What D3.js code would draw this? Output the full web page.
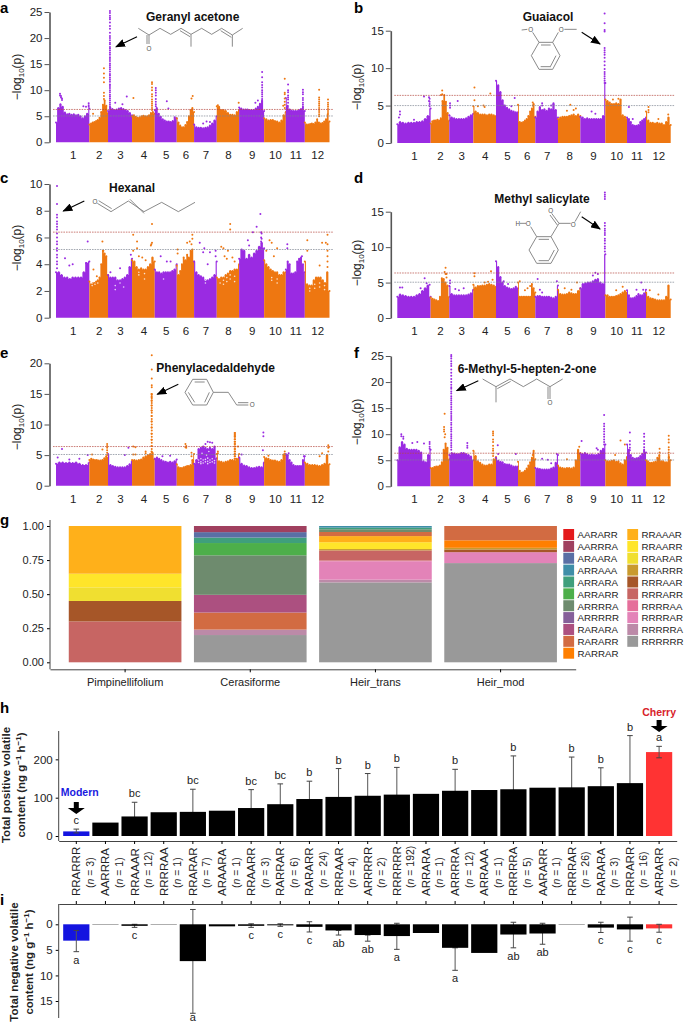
<!DOCTYPE html>
<html>
<head>
<meta charset="utf-8">
<script src="https://cdnjs.cloudflare.com/ajax/libs/d3/7.8.5/d3.min.js"></script>
<style>
body { margin: 0; background: #fff; }
text { font-family: "Liberation Sans", Arial, sans-serif; fill: #222; }
</style>
</head>
<body>
<script>
// chromosomes
var chromNames = ["1", "2", "3", "4", "5", "6", "7", "8", "9", "10", "11", "12"];
var chromSizes = [100, 56, 72, 68, 66, 52, 68, 67, 75, 65, 57, 74];

// upper edge of the dense cloud, one list per chromosome
var envelopeA = [
    [3.8, 6.6, 7.3, 6.8, 5.7, 5.4, 5.5, 5.3, 5.4, 5.2, 5.3, 5.0, 4.6, 5.0, 5.5, 6.5],
    [3.4, 3.6, 3.8, 3.9, 4.1, 4.3, 4.7, 5.8, 7.2, 8.0, 7, 5.6],
    [6, 6.7, 6.4, 6.2, 6.3, 6.5, 6.6, 6.4, 6.2, 6, 5.6, 5.2],
    [5.0, 5.2, 4.9, 4.7, 4.8, 5, 5.1, 5, 5, 5.2, 5.6, 5.8, 5.5],
    [6.2, 6.6, 5.5, 4.9, 4.4, 4.2, 4, 4, 3.9, 4.1, 4.8, 4.6],
    [4.6, 3.8, 3.2, 2.9, 2.9, 3.3, 3.9, 5, 6.2, 6.6, 5.8],
    [3.4, 2.9, 2.8, 2.8, 2.7, 2.8, 2.9, 3.2, 3.6, 4.2, 5],
    [6.9, 6.8, 6.2, 6.2, 6, 5.6, 5.3, 5.3, 5.2, 5.8, 6.2],
    [6.7, 6.5, 6.3, 6.3, 6.3, 6.2, 6.2, 6.2, 6.5, 6.8, 7.4, 8, 6],
    [4.6, 4.4, 4.2, 4.3, 4.3, 4.1, 4, 3.8, 4.2, 5.2, 5.8],
    [8.5, 7, 6.3, 6.1, 6, 6, 6, 6.2, 6.4, 6.8, 6],
    [3.8, 3.4, 3.4, 3.5, 3.6, 3.5, 3.8, 4.4, 3.8, 3.6, 3.7, 4, 4.4, 5.4, 4]
];
var envelopeB = [
    [2.5, 2.8, 2.7, 2.6, 2.7, 2.7, 2.7, 2.8, 2.8, 2.9, 3.2, 3.6, 4.6],
    [2.6, 2.9, 3, 3, 3.1, 3, 3.3, 5.6, 6.4, 5.5, 4, 3],
    [3.7, 3.4, 3.3, 3.2, 3.2, 3.2, 3.2, 3.3, 3.5, 3.7, 3.9],
    [4.9, 4.2, 4, 3.8, 3.8, 3.8, 3.7, 3.8, 3.8, 3.7, 3.6],
    [8.3, 7.7, 6.8, 5.7, 5, 4.7, 4.5, 4.3, 4.2, 4.1, 4.1],
    [5.1, 2.8, 2.7, 2.8, 3, 3.2, 3.6, 4.2, 4.6, 5.2, 3.5],
    [3.4, 4.2, 4.8, 4.4, 4.5, 4.3, 4.6, 4.5, 5.2, 4.4, 3.4],
    [3.2, 3.4, 3.5, 3.5, 3.5, 3.6, 3.7, 3.8, 3.6, 3.8, 3.6],
    [3.5, 3.4, 3.2, 3.3, 3.2, 3.2, 3.2, 3.2, 3.2, 3.2, 3.6, 8],
    [5.8, 5.6, 5.4, 5.2, 5.2, 5.3, 5.2, 5.8, 3.7, 3.5, 3.2],
    [3.4, 3.2, 2.8, 2.4, 2.3, 2.3, 2.4, 2.8, 3, 3.2, 3.4],
    [4.2, 3, 2.7, 2.7, 2.6, 2.7, 2.6, 2.6, 2.4, 2.8, 3.4, 2.4]
];
var envelopeC = [
    [3.4, 3.4, 3.2, 3, 3, 2.9, 3, 3, 3, 3, 3.4, 4.1, 4.2],
    [2.7, 2.5, 2.6, 2.6, 2.7, 2.8, 3, 4, 5, 4.8, 4.6, 3.2],
    [3.2, 3, 3, 3, 2.8, 2.8, 2.9, 3, 3.2, 3.8, 4.4],
    [4.3, 4.2, 3.8, 3.6, 3.7, 3.6, 3.6, 3.8, 4, 4.5, 4.2],
    [3.6, 3.4, 3.4, 3.3, 3.4, 3.4, 3.4, 3.4, 3.5, 3.6, 4],
    [3.9, 3.2, 3.5, 4, 4.5, 4.3, 4.7, 4.5, 5, 5.1, 4.2],
    [4.2, 3.4, 3.2, 3.1, 3, 2.8, 2.8, 2.9, 3, 3.2, 4.2],
    [3, 2.9, 3, 3, 3.2, 3.3, 3.5, 3.5, 3.6, 3.6, 4],
    [4.4, 5.1, 5, 4.4, 4.7, 4.5, 4.8, 5, 5.3, 5.6, 5.2],
    [4.3, 4, 3.8, 3.6, 3.5, 3.4, 3.4, 3.2, 3.2, 3.4, 3.4],
    [3.6, 4.2, 4, 3.3, 3.3, 3.4, 4.2, 4.4, 4.5, 4, 3.4],
    [4.2, 2.5, 2.4, 2.4, 2.8, 3, 3, 3, 2.8, 2.6, 3.4, 2]
];
var envelopeD = [
    [3, 3.3, 3.2, 3.1, 3, 3, 3, 3.2, 3.4, 3.8, 4.2, 4.6, 3],
    [2.9, 2.7, 2.6, 2.5, 2.4, 3, 5.6, 5.5, 5, 4.6, 3],
    [4.5, 3.4, 3.2, 3.2, 3.2, 3.2, 3.2, 3.2, 3.3, 3.5, 4],
    [4.7, 4.3, 4.5, 4.5, 4.6, 4.6, 4.7, 4.8, 4.7, 4.6, 4.4],
    [8, 7.2, 5.8, 5, 4.5, 4.3, 4.2, 4.1, 4.2, 4.4, 4.2],
    [5, 3, 3, 3, 3, 3, 3, 3, 4.8, 4.2, 3.6],
    [3, 3.1, 3.1, 3, 3, 3, 3, 2.9, 2.8, 3, 4.6],
    [4, 3.4, 3.3, 3.3, 3.4, 3.6, 3.5, 3.4, 3.4, 3.8, 4.2],
    [4.2, 4.8, 4.9, 5, 5, 5.2, 5.4, 5.5, 5, 4.8, 9],
    [3.2, 3.2, 3, 3, 3, 3.1, 3.2, 3.4, 3.6, 3.8, 3.6],
    [3.9, 3.2, 2.8, 2.8, 2.9, 3.1, 3.4, 3.2, 3.2, 3.5, 4],
    [3.6, 3, 2.8, 2.7, 2.6, 2.5, 2.5, 2.5, 2.5, 3, 4.6, 2.6]
];
var envelopeE = [
    [3.6, 3.8, 3.8, 3.7, 3.8, 3.7, 3.8, 3.6, 3.4, 3.4, 3.8],
    [4.2, 4.4, 4.3, 4.2, 4.2, 4.1, 4.1, 4.2, 4.5, 4.8, 4.6],
    [5.2, 3.4, 3.2, 3.1, 3, 3, 3, 3, 3.2, 3.5, 4],
    [4.2, 4.2, 4.1, 4.2, 4.3, 4.6, 4.8, 5, 5.2, 5.4, 4.4],
    [4.4, 4.6, 4.4, 4.2, 4, 3.9, 3.8, 3.9, 3.8, 4, 4.3],
    [3.5, 3, 2.9, 2.9, 3, 3.1, 3.2, 3.2, 3.4, 4.2, 5.2],
    [3.6, 4.2, 6, 6.2, 6.4, 6.2, 6, 6.2, 6, 6.4, 4.5],
    [5.2, 4, 3.9, 3.8, 3.9, 4, 4.2, 4.2, 4.1, 4.4, 5.2],
    [4.6, 3.6, 3.3, 3.2, 3, 2.9, 2.9, 3, 3.1, 3, 3.8],
    [4.7, 4.5, 4.4, 4.2, 4.1, 4.1, 4, 3.9, 4.2, 5, 5],
    [5.2, 5, 4.2, 3.8, 3.4, 3.2, 3.2, 3.2, 3.2, 4.2, 4.8],
    [3.8, 3.6, 3.4, 3.4, 3.4, 3.3, 3.2, 3.4, 3.6, 5, 3.5]
];
var envelopeF = [
    [5, 7.5, 8.5, 8, 7.2, 7, 7, 7, 7, 6.8, 6.5, 4.8, 4.6, 6, 7],
    [3.5, 3.5, 3.7, 3.8, 3.8, 4, 4.6, 7, 8.2, 7.4, 5.2],
    [6, 6.4, 6.3, 6.2, 6.2, 6.4, 6.4, 6.2, 6, 5.7, 5],
    [6.8, 5.8, 4.8, 4.5, 4.2, 4, 4, 4.2, 4.2, 5.2, 5.6],
    [5.5, 4.9, 4.7, 4.6, 4.3, 4.2, 4.2, 4, 3.8, 3.8, 3.8],
    [4.7, 3, 2.6, 2.7, 3, 3.4, 4, 4.6, 5.5, 6.8, 5.2],
    [3.5, 3.4, 3.3, 3.2, 3.2, 3.2, 3.2, 3.4, 3.6, 4.5, 6],
    [4, 3.6, 3.5, 3.4, 3.5, 3.5, 3.4, 3.6, 5, 7, 6.4],
    [6.3, 6.2, 6.4, 6.2, 6, 6.1, 6, 6, 6.2, 6.8, 7.2, 8],
    [5, 4.8, 4.8, 4.9, 5, 4.7, 4.8, 4.4, 4.2, 5, 5.6],
    [8, 7, 6, 5.5, 5.3, 5.4, 5.5, 5.8, 6.2, 6.8, 6.5],
    [5, 4.8, 4.5, 4.5, 4.6, 4.7, 5.5, 6, 4.8, 4.8, 4.6, 4.6, 5.6, 5]
];

// stray snps above the cloud: chromosome, fraction along it, -log10(p) values
var peaksA = [
    [1, .12, [9.3, 9.0]], [1, .15, [8.9, 8.6]], [1, .18, [8.4, 8.1]], [1, .82, [6.9]], [1, .9, [6.8]], [1, .98, [7.5, 7.1, 6.8]],
    [2, .78, [14.2, 13.2, 12.4, 11.5, 9.5, 8.9, 8.3]], [2, .2, [5.5]],
    [3, .08, [25.2, 24.8, 24.3, 23.9, 23.6, 23, 22.3, 21.8, 21, 20.4, 20, 19.6, 19.1, 18.8, 18.3, 18, 17.6, 17.2, 16.8, 16.3, 16, 15.6, 15.1, 14.8, 14.4, 14, 13.6, 13.1, 12.8, 12.4, 12, 11.6, 11.1, 10.8, 10.4, 10, 9.6, 9.1, 8.8, 8.4, 8, 7.6, 7.2, 6.8]],
    [3, .3, [7.6]], [3, .78, [8.8]], [3, .6, [7.3]],
    [4, .06, [8.5]], [4, .88, [11.5, 11.2, 10.5, 10, 9.2, 8.8, 8.2, 7.8, 7.4, 7, 6.6, 6.2]],
    [5, .05, [10.4, 10, 9.5, 9, 8.3, 7.8, 7.3, 6.9]], [5, .55, [7.9]], [5, .62, [6.5]],
    [6, .92, [8.9]], [6, .85, [8.4]],
    [7, .55, [4.0]], [7, .7, [3.9]], [7, .4, [3.6]],
    [8, .05, [7.1]], [8, .98, [7.6]],
    [9, .65, [7.6]], [9, .75, [8.0]], [9, .92, [13.5, 12.5, 11.5, 11, 10.5, 10, 9.6, 9.2, 8.8, 8.3]],
    [10, .95, [12.2, 9.5, 9.2, 8.4, 7.8, 7.2, 6.6]], [10, .88, [7]],
    [11, .12, [11.1, 10, 9.6, 9, 8.6, 8.2, 7.6]], [11, .9, [10.1, 9.6, 9.2, 8.5, 8.1, 7.6, 7.2]],
    [12, .58, [10.1, 8.6, 8.2, 7.8, 7.4, 7, 6.6, 6.2, 5.8, 5.4, 5]], [12, .94, [8.2, 7.6, 7.2, 6.8, 6.4, 6, 5.6]]
];
var peaksB = [
    [1, .08, [4.2, 3.8]], [1, .05, [3.4]], [1, .8, [6.2]], [1, .95, [6.1, 5.6]], [1, .5, [3.1]], [1, .97, [5.9, 5.5, 5.2, 4.9]],
    [2, .62, [7, 6.5]], [2, .55, [6.4]],
    [3, .03, [5.3, 5, 4.7]], [3, .35, [5.6]],
    [4, .05, [7.4, 5.7]], [4, .75, [6.6]], [4, .45, [5]], [4, .5, [4.8]], [4, .2, [4.9]],
    [5, .85, [6]], [5, .35, [5]], [5, .7, [4.9]],
    [6, .85, [5.4, 5]],
    [7, .3, [5.3, 5]], [7, .8, [5.3]], [7, .7, [5]],
    [8, .55, [5.1]], [8, .7, [4.4]], [8, .4, [4.3]], [8, .8, [4.6]],
    [9, .45, [4.2]], [9, .6, [3.9]], [9, .97, [17.3, 16, 15.1, 14.9, 12.7, 12.4, 12.1, 11.8, 11.4, 10.9, 10.4, 9.9, 9.5, 9.2, 8.9, 8.6, 8.3, 8]],
    [10, .35, [5.8]], [10, .6, [5.9]],
    [11, .1, [4.8]], [11, .3, [3.2]],
    [12, .1, [4.8, 4.4, 4.1]], [12, .5, [3.2]], [12, .9, [3.8]]
];
var peaksC = [
    [1, .03, [9.85, 8.5, 7.7, 7.5, 7.2, 7, 6.8, 6.6, 6.3, 6, 5.7, 5.5, 5.2, 5, 4.7, 4.5, 4.2, 4, 3.7]], [1, .95, [5.7]], [1, .27, [4.45]], [1, .5, [4]], [1, .4, [3.9]], [1, .9, [4.1]],
    [2, .7, [5.7]], [2, .75, [5]], [2, .22, [3.6]], [2, .4, [3.1]],
    [3, .5, [3.7]], [3, .95, [4.7]], [3, .1, [3.4]],
    [4, .05, [6.2, 5]], [4, .22, [5.7, 5.2]], [4, .88, [7, 5.6]], [4, .85, [5.5]], [4, .83, [5.4]], [4, .45, [4.5]], [4, .6, [4.3]], [4, .3, [4.6]],
    [5, .27, [4.6]], [5, .55, [4.2]], [5, .72, [4.2]],
    [6, .05, [5.1, 4.8]], [6, .6, [5.6]], [6, .75, [5.7]], [6, .9, [6.2, 5.9]], [6, .85, [5.5]],
    [7, .25, [5.6]], [7, .45, [5.2]], [7, .7, [4.9]], [7, .4, [4.9]], [7, .95, [5, 4.6]], [7, .6, [4]],
    [8, .3, [5.2]], [8, .6, [7, 6.6]], [8, .2, [5.3]], [8, .5, [5]], [8, .35, [4.6]], [8, .7, [4.5]], [8, .8, [4.2]], [8, .45, [4.4]],
    [9, .35, [5.8]], [9, .55, [6.4]], [9, .7, [6.8]], [9, .85, [7.75]], [9, .88, [6.4, 6, 5.7]], [9, .9, [6.3, 5.9]], [9, .4, [5.4]],
    [10, .25, [5.8]], [10, .35, [5.6]], [10, .6, [5.2]], [10, .1, [5]], [10, .45, [4.6]],
    [11, .08, [5.5, 5.2]], [11, .85, [4.6]],
    [12, .1, [5.8, 5]], [12, .7, [5.6]], [12, .85, [5.6]], [12, .92, [6.2, 5.5, 5, 4.6, 4.2, 3.8]], [12, .6, [3.9]]
];
var peaksD = [
    [1, .08, [4.3]], [1, .15, [4.3]], [1, .82, [5.6]], [1, .88, [4.9]], [1, .97, [4.7]], [1, .7, [4.2]],
    [2, .8, [7.1, 6.2]], [2, .75, [6.5]], [2, .85, [5.7, 6.2]],
    [3, .03, [5.3, 4.9]], [3, .25, [4.1]], [3, .6, [4.2]], [3, .4, [3.9]],
    [4, .05, [6.3, 5.9]], [4, .78, [6.6]], [4, .85, [5.4]], [4, .5, [5]], [4, .65, [5.1]],
    [5, .35, [5.2]], [5, .55, [4.8]],
    [6, .1, [5.2]], [6, .55, [4.2]], [6, .4, [3.9]], [6, .7, [4.5]],
    [7, .2, [4]], [7, .1, [5.5]], [7, .95, [5.2]], [7, .3, [3.6]],
    [8, .85, [5]], [8, .3, [4.2]], [8, .6, [4]],
    [9, .6, [6.4]], [9, .7, [6.2]], [9, .5, [6]],
    [9, .98, [17.7, 17.4, 17.1, 16.8, 13.4, 13, 12.6, 12.3, 12, 11.7, 11.2, 10.9, 10.5, 10.1, 9.8, 9.4]],
    [10, .8, [4.4]], [10, .5, [3.9]],
    [11, .75, [5]], [11, .5, [4]], [11, .85, [4]],
    [12, .15, [3.9]], [12, .5, [3.3]]
];
var peaksE = [
    [1, .18, [6]], [1, .05, [4.6]], [1, .4, [4.3]], [1, .7, [4.4]], [1, .95, [5]],
    [2, .7, [5.9]], [2, .95, [6.8, 6.5, 6.2, 5.8, 5.4, 5]], [2, .15, [5.1]],
    [3, .85, [6.2]], [3, .7, [5]],
    [4, .05, [6.4, 5.1]], [4, .15, [6.3, 5.1]], [4, .6, [5.6, 5.3]],
    [4, .86, [15, 14.5, 13.9, 13.1, 12.3, 11.4, 10.5, 9.5, 8.5, 7.5, 6.5, 5.6]],
    [4, .87, [21.3, 19, 17.5, 16.4, 16.1, 15, 14.8, 14.5, 14.2, 13.9, 13.5, 13.1, 12.7, 12.3, 11.9, 11.4, 10.9, 10.5, 10, 9.5, 9, 8.5, 8, 7.5, 7, 6.5, 6, 5.5]],
    [5, .7, [4.9]], [5, .35, [4.8]],
    [6, .5, [6.8, 6.3]], [6, .55, [6.5, 6.2]], [6, .85, [5.4, 4.8]],
    [7, .6, [7.2]], [7, .7, [7.1]], [7, .8, [7]], [7, .5, [6.8]],
    [8, .8, [8.6, 8.3, 8, 7.6, 7.2, 6.8, 6.4, 6, 5.6, 5.2, 4.8, 4.4]],
    [8, .82, [8.6, 8.3, 8, 7.6, 7.2, 6.8, 6.4, 6, 5.6, 5.2, 4.8, 4.4]], [8, .05, [5.6, 5.3]], [8, .95, [6.4]],
    [9, .97, [8.7, 8.1]], [9, .95, [5.8]], [9, .1, [5.1]],
    [10, .95, [5.6, 5.2]], [10, .2, [4.9]], [10, .9, [5.1]],
    [11, .15, [5.3]], [11, .95, [4.8]],
    [12, .95, [6.6, 6.2, 5.6]], [12, .7, [5.3]], [12, .6, [4.8]], [12, .97, [6.3]]
];
var peaksF = [
    [1, .12, [10, 9.6]], [1, .18, [9.5, 9.1]], [1, .6, [8.5]], [1, .45, [8.3]], [1, .8, [8.2]], [1, .97, [8.5, 8.1, 7.6, 7.2]],
    [2, .75, [13.9, 9.4]], [2, .72, [11.4, 10.9, 10.5]], [2, .78, [10]],
    [3, .08, [25.2, 24.9, 24.5, 24, 23.5, 23.1, 22.4, 21.8, 21.2, 20.6, 20, 19.5, 19, 18.7, 18.2, 17.8, 17.3, 16.9, 16.5, 16.1, 15.7, 15.2, 14.8, 14.3, 13.9, 13.5, 13.1, 12.7, 12.2, 11.8, 11.3, 10.9, 10.5, 10, 9.6, 9.2, 8.8, 8.3, 7.9, 7.5, 7]],
    [3, .75, [8.3, 7.8, 7.4]],
    [4, .87, [10.5, 10.2, 9.8, 9, 8.5, 7.8, 7.2, 6.8, 6.3, 5.8]],
    [5, .08, [7.9]], [5, .1, [6.2]], [5, .9, [6.2]],
    [6, .85, [6]],
    [7, .3, [5.3]], [7, .55, [5.1]], [7, .95, [6.2]], [7, .7, [4.4]],
    [8, .4, [5.2]], [8, .95, [7.6]],
    [9, .05, [8.7]], [9, .65, [7.3]], [9, .7, [7]], [9, .95, [13.7, 12, 11.5, 11, 10.5, 10, 9.5, 9, 8.5, 8]],
    [10, .7, [8.8]], [10, .9, [8]], [10, .45, [6]],
    [11, .15, [10.3, 8.7, 8, 7.4, 6.9]], [11, .9, [10.1, 9.5, 8.7, 8.1, 7.5, 7]],
    [12, .92, [9.7, 9, 8.4, 7.5, 7, 6.5, 6, 5.6]], [12, .55, [7.2, 6.5]]
];
// gaps in the thinner parts of the cloud
var gapsC = [
    [2, .15, [2.6, 2.4]], [2, .3, [2.8, 2.5]], [2, .45, [2.6]], [3, .3, [2.4, 2.1]], [3, .5, [2.6]], [3, .65, [2.3]],
    [4, .3, [3.2, 3.4]], [4, .55, [3.3, 2.9]], [5, .4, [2.9]], [7, .5, [2.6, 2.8]], [7, .7, [3]],
    [8, .15, [2.6]], [8, .3, [2.8, 2.5]], [8, .45, [3, 2.7]], [8, .6, [3.2, 2.9]], [8, .8, [3.1, 2.7]],
    [10, .35, [3, 2.8]], [10, .6, [2.9, 2.6]], [12, .2, [2.2, 2.0]], [12, .4, [2.5, 2.2]], [12, .6, [2.6, 2.3]], [12, .8, [2.4, 2.1]]
];
var gapsE = [
    [7, .2, [4.2, 3.8]], [7, .3, [4.4, 3.9, 3.6]], [7, .4, [4.2, 3.7]], [7, .5, [4.3, 3.9]], [7, .6, [4.5, 4, 3.6]],
    [7, .7, [4.2, 3.8]], [7, .8, [4.4, 3.9]], [7, .9, [4.1, 3.7]], [7, .35, [5.3]], [7, .65, [5.6]], [7, .55, [5]]
];
var gapsNone = [];

// genotype frequencies in panel g, same order as genotypes
var genotypes = ["AARARR", "AARRRA", "ARAARA", "ARRAAA", "ARRARA", "ARRARR", "ARRRRA", "ARRRRR", "RARARA", "RARARR", "RARRAR",
    "RRAAAR", "RRAARR", "RRARAR", "RRARRR", "RRRAAR", "RRRARR", "RRRRAA", "RRRRAR", "RRRRRA", "RRRRRR"];
var genotypeColors = ["#e41a1c", "#a0405f", "#5a6fa5", "#3f8ea8", "#3f9f7c", "#4daf4a", "#6e8b6e", "#86609a", "#ac5080", "#d26b42", "#ff7f00",
    "#ffb01a", "#ffe52a", "#f0df30", "#c99a2e", "#a65628", "#c76563", "#e56f9b", "#e383b8", "#bc8aa8", "#999999"];
var groups = ["Pimpinellifolium", "Cerasiforme", "Heir_trans", "Heir_mod"];
var pimpValues = [0, 0, 0, 0, 0, 0, 0, 0, 0, 0, 0, .35, .10, .10, 0, .15, .30, 0, 0, 0, 0];
var ceraValues = [0, .045, .04, 0, .04, .09, .29, 0, .13, .125, 0, 0, 0, 0, 0, 0, 0, 0, 0, .04, .20];
var transValues = [0, 0, 0, .012, .012, 0, .02, 0, 0, .03, 0, .045, .05, 0, .01, 0, .075, .005, .135, .02, .586];
var modValues = [0, 0, 0, 0, 0, 0, 0, 0, 0, .105, .055, 0, 0, 0, .012, .02, 0, 0, .08, 0, .728];

// panels h and i
var lines = ["RRARRR", "AARRRA", "RRAAAR", "RRRRAA", "RRARAR", "ARAARA", "RRAARR", "RARRAR", "RARARR", "RRRAAR", "ARRRRR",
    "RRRRRR", "ARRARA", "ARRRRA", "ARRAAA", "RRRRRA", "AARARR", "RRRRAR", "RARARA", "RRRARR", "ARRARR"];
var lineN = [3, 1, 12, 1, 7, 1, 3, 6, 24, 4, 2, 192, 1, 12, 1, 5, 1, 26, 3, 16, 2];
var posValues = [12, 35, 51, 62, 63, 66, 73, 83, 96.5, 102, 105, 108, 110, 118, 120, 122, 126, 127, 130, 138, 219];
var posLow = [8, null, 20, null, 10, null, 30, 40, 60, 40, 60, 50, null, 70, null, 50, null, 60, 90, 40, 204];
var posHigh = [18, null, 88, null, 122, null, 121, 136, 143, 176, 163, 179, null, 174, null, 209, null, 206, 178, 262, 234];
var posLetters = ["c", "", "bc", "", "bc", "", "bc", "bc", "b", "b", "b", "b", "", "b", "", "b", "", "b", "b", "b", "a"];
var negValues = [3.2, .1, .3, .1, 7.2, .4, .3, .2, .5, 1.2, 2.1, 2.3, 1.7, 4.6, 5.6, 2, 1.8, .1, .65, 1, .8];
var negLow = [5.35, null, .6, null, 17.4, null, .6, .4, 1.5, 2.1, 3.3, 4.9, null, 9, null, 4.6, 3.9, null, 1.6, 3.3, 1.55];
var negHigh = [1.2, null, 0, null, -2.9, null, -.1, -.1, -.5, 1.2, 2.1, -.2, null, 4.6, null, -.4, -.2, null, -.4, -1.4, 0];
var negLetters = ["a", "", "c", "", "a", "", "c", "c", "c", "ab", "ab", "a", "", "a", "", "ab", "ab", "", "c", "c", "c"];
var barColors = lines.map(function (d, i) { return i === 0 ? "#1414e0" : (i === 20 ? "#ff3333" : "#000"); });

var purple = "#9a2be2", orange = "#ee7711";

var svg = d3.select("body").append("svg")
    .attr("width", 685)
    .attr("height", 1024)
    .style("display", "block")
    .style("opacity", .999);

// panel letters
[["a", 0, 13], ["b", 354, 13], ["c", 0, 183], ["d", 354, 183], ["e", 0, 358], ["f", 354, 358], ["g", 0, 525], ["h", 0, 713], ["i", 0, 905]].forEach(function (p) {
    svg.append("text").attr("x", p[1]).attr("y", p[2])
        .attr("font-size", 15).attr("font-weight", "bold").style("fill", "#000").text(p[0]);
});

function manhattan(o) {
    var total = d3.sum(chromSizes);
    var starts = [0].concat(Array.from(d3.cumsum(chromSizes)));
    var x = d3.scaleLinear().domain([0, total]).range([o.x0, o.x1]);
    var y = d3.scaleLinear().domain([0, o.ymax]).range([o.y0, o.ytop]);
    var g = svg.append("g");

    var area = d3.area().curve(d3.curveStep).x(function (d) { return x(d[0]); }).y0(o.y0).y1(function (d) { return y(d[1]); });

    chromSizes.forEach(function (size, c) {
        var color = c % 2 === 0 ? purple : orange;
        var pts = o.envelope[c].map(function (v, j, arr) {
            return [starts[c] + size * j / (arr.length - 1), v];
        });
        g.append("path").attr("d", area(pts)).attr("fill", color);
        g.selectAll(null).data(pts).enter().append("circle")
            .attr("cx", function (d) { return x(d[0]); })
            .attr("cy", function (d) { return y(d[1]); })
            .attr("r", 1).attr("fill", color);
    });

    o.gaps.forEach(function (p) {
        var c = p[0] - 1;
        g.selectAll(null).data(p[2]).enter().append("circle")
            .attr("cx", x(starts[c] + chromSizes[c] * p[1]))
            .attr("cy", function (d) { return y(d); })
            .attr("r", .8)
            .attr("fill", "#fff").attr("opacity", .8);
    });

    o.peaks.forEach(function (p) {
        var c = p[0] - 1;
        g.selectAll(null).data(p[2]).enter().append("circle")
            .attr("cx", x(starts[c] + chromSizes[c] * p[1]))
            .attr("cy", function (d) { return y(d); })
            .attr("r", 1)
            .attr("fill", c % 2 === 0 ? purple : orange);
    });

    // significance thresholds
    g.append("line").attr("x1", o.x0 - 3).attr("x2", o.x1 + 3.5).attr("y1", y(o.hi)).attr("y2", y(o.hi))
        .attr("stroke", "#b5483f").attr("stroke-width", .7).attr("stroke-dasharray", "1.6,1");
    g.append("line").attr("x1", o.x0 - 3).attr("x2", o.x1 + 3.5).attr("y1", y(o.lo)).attr("y2", y(o.lo))
        .attr("stroke", "#7d8490").attr("stroke-width", .7).attr("stroke-dasharray", "1.6,1");

    var yAxis = g.append("g")
        .attr("transform", "translate(" + (o.x0 - 6.5) + ",0)")
        .call(d3.axisLeft(y).tickValues(o.ticks).tickSize(5).tickSizeOuter(0));
    yAxis.select(".domain").attr("stroke", "#555").attr("stroke-width", 1.6);
    yAxis.selectAll(".tick line").attr("stroke", "#555").attr("stroke-width", 1);
    yAxis.selectAll("text").attr("font-size", 11.5).attr("font-family", "Liberation Sans").attr("x", -7);

    var mids = starts.slice(0, 12).map(function (s, i) { return s + chromSizes[i] / 2; });
    var xAxis = g.append("g")
        .attr("transform", "translate(0," + o.y0 + ")")
        .call(d3.axisBottom(x).tickValues(mids).tickSize(0).tickFormat(function (d, i) { return chromNames[i]; }));
    xAxis.select(".domain").remove();
    xAxis.selectAll("text").attr("font-size", 11.5).attr("font-family", "Liberation Sans").attr("dy", 0).attr("y", 17);

    var t = g.append("text")
        .attr("transform", "translate(" + o.titleX + "," + o.titleY + ") rotate(-90)")
        .attr("text-anchor", "middle").attr("font-size", 12);
    t.append("tspan").text("\u2212log");
    t.append("tspan").attr("font-size", 8).attr("dy", 2.5).text("10");
    t.append("tspan").attr("dy", -2.5).text("(p)");

    svg.append("text").attr("x", o.nameX).attr("y", o.nameY).attr("text-anchor", "middle")
        .attr("font-size", 12).attr("font-weight", "bold").style("fill", "#111").text(o.name);

    svg.append("line").attr("x1", o.arrow[0]).attr("y1", o.arrow[1]).attr("x2", o.arrow[2]).attr("y2", o.arrow[3])
        .attr("stroke", "#000").attr("stroke-width", 1.1).attr("marker-end", "url(#head)");
}

svg.append("defs").append("marker")
    .attr("id", "head").attr("viewBox", "0 0 10 8").attr("refX", 9).attr("refY", 4)
    .attr("markerUnits", "userSpaceOnUse").attr("markerWidth", 10).attr("markerHeight", 8).attr("orient", "auto")
    .append("path").attr("d", "M0,0L10,4L0,8Z").attr("fill", "#000");

manhattan({ envelope: envelopeA, peaks: peaksA, gaps: gapsNone, x0: 56, x1: 329.5, y0: 142.3, ytop: 12, ymax: 25, ticks: [0, 5, 10, 15, 20, 25], hi: 6.3, lo: 5.05, titleX: 21, titleY: 77, name: "Geranyl acetone", nameX: 192.7, nameY: 21, arrow: [137, 36.7, 116, 46.7] });
manhattan({ envelope: envelopeB, peaks: peaksB, gaps: gapsNone, x0: 397.3, x1: 670.7, y0: 143, ytop: 30.7, ymax: 15, ticks: [0, 5, 10, 15], hi: 6.36, lo: 5, titleX: 361, titleY: 87, name: "Guaiacol", nameX: 548, nameY: 21, arrow: [581.7, 32.3, 600, 44] });
manhattan({ envelope: envelopeC, peaks: peaksC, gaps: gapsC, x0: 56, x1: 329.5, y0: 317.7, ytop: 184, ymax: 10, ticks: [0, 2, 4, 6, 8, 10], hi: 6.4, lo: 5.1, titleX: 21, titleY: 248, name: "Hexanal", nameX: 132, nameY: 192, arrow: [84.3, 201, 63.3, 211] });
manhattan({ envelope: envelopeD, peaks: peaksD, gaps: gapsNone, x0: 397.3, x1: 670.7, y0: 318, ytop: 211.7, ymax: 15, ticks: [0, 5, 10, 15], hi: 6.35, lo: 5.05, titleX: 361, titleY: 263, name: "Methyl salicylate", nameX: 542, nameY: 203, arrow: [581.7, 216.7, 600, 229] });
manhattan({ envelope: envelopeE, peaks: peaksE, gaps: gapsE, x0: 56, x1: 329.5, y0: 485.7, ytop: 363.3, ymax: 20, ticks: [0, 5, 10, 15, 20], hi: 6.4, lo: 5.1, titleX: 21, titleY: 427, name: "Phenylacedaldehyde", nameX: 215.7, nameY: 372, arrow: [178.3, 384.3, 157.3, 394.3] });
manhattan({ envelope: envelopeF, peaks: peaksF, gaps: gapsNone, x0: 397.3, x1: 670.7, y0: 486.3, ytop: 356, ymax: 25, ticks: [0, 5, 10, 15, 20, 25], hi: 6.35, lo: 5.05, titleX: 361, titleY: 422, name: "6-Methyl-5-hepten-2-one", nameX: 527, nameY: 373, arrow: [478.3, 380.7, 456.7, 390.7] });

// molecule sketches, traced in 3x crop coordinates
function molecule(ox, oy, chains, atoms) {
    var g = svg.append("g").attr("transform", "translate(" + ox + "," + oy + ") scale(" + (1 / 3) + ")");
    var line = d3.line();
    chains.forEach(function (c) {
        g.append("path").attr("d", line(c)).attr("fill", "none").attr("stroke", "#777").attr("stroke-width", 2.6);
    });
    atoms.forEach(function (a) {
        g.append("text").attr("x", a[1]).attr("y", a[2] + 7).attr("text-anchor", "middle")
            .attr("font-size", 19).style("fill", "#555").text(a[0]);
    });
}
molecule(0, 0, [
    [[415, 85], [447, 105], [480, 85], [512, 103], [543, 85], [573, 103], [605, 85], [635, 103], [665, 85], [697, 105], [728, 85]],
    [[447, 105], [447, 132]], [[441, 105], [441, 132]], [[573, 103], [573, 140]], [[697, 105], [697, 140]],
    [[540, 92], [570, 110]], [[662, 92], [694, 112]]
], [["O", 447, 145]]);
molecule(340, 0, [
    [[597, 127], [638, 127], [660, 167], [638, 208], [597, 208], [574, 167], [597, 127]],
    [[603, 135], [632, 135]], [[648, 167], [632, 198]], [[602, 200], [633, 200]],
    [[597, 127], [578, 97]], [[638, 127], [655, 97]], [[673, 88], [710, 88]], [[562, 88], [545, 90]]
], [["O", 572, 88], ["O", 664, 88]]);
molecule(0, 170, [
    [[292, 100], [333, 125], [385, 93], [432, 125], [485, 97], [535, 125], [585, 97]],
    [[296, 92], [335, 116]], [[390, 88], [432, 130]]
], [["O", 285, 95]]);
molecule(340, 170, [
    [[590, 200], [633, 200], [655, 240], [633, 280], [590, 280], [567, 240], [590, 200]],
    [[596, 208], [627, 208]], [[643, 240], [627, 270]], [[596, 272], [627, 272]],
    [[590, 200], [572, 170]], [[633, 200], [657, 160], [635, 130]], [[652, 165], [630, 135]],
    [[657, 160], [692, 160]], [[705, 155], [722, 125]], [[540, 160], [558, 160]]
], [["O", 565, 160], ["O", 632, 122], ["O", 700, 163], ["H", 533, 160]]);
molecule(0, 340, [
    [[578, 118], [620, 118], [640, 157], [620, 195], [578, 195], [555, 157], [578, 118]],
    [[584, 126], [614, 126]], [[628, 157], [614, 187]], [[584, 187], [565, 157]],
    [[640, 157], [685, 157], [710, 195], [745, 195]], [[714, 188], [745, 188]]
], [["O", 757, 195]]);
molecule(340, 340, [
    [[428, 117], [468, 140], [510, 117], [550, 140], [590, 117], [630, 140], [668, 117]],
    [[472, 146], [512, 124]], [[468, 140], [468, 187]], [[630, 140], [630, 177]], [[624, 140], [624, 177]]
], [["O", 630, 188]]);

// panel g
var rows = groups.map(function (g, i) {
    var vals = [pimpValues, ceraValues, transValues, modValues][i];
    var row = { group: g };
    genotypes.forEach(function (k, j) { row[k] = vals[j]; });
    return row;
});
var stacked = d3.stack().keys(genotypes.slice().reverse())(rows);

var gx = d3.scaleBand().domain(groups).range([50, 575.7]).paddingInner(.1).paddingOuter(.15);
var gy = d3.scaleLinear().domain([0, 1]).range([662.3, 526]);
var gp = svg.append("g");

gp.selectAll("g.layer").data(stacked).enter().append("g")
    .attr("class", "layer")
    .attr("fill", function (d) { return genotypeColors[genotypes.indexOf(d.key)]; })
    .selectAll("rect").data(function (d) { return d; }).enter().append("rect")
    .attr("x", function (d) { return gx(d.data.group); })
    .attr("width", gx.bandwidth())
    .attr("y", function (d) { return gy(d[1]); })
    .attr("height", function (d) { return gy(d[0]) - gy(d[1]); });

var gyAxis = gp.append("g").attr("transform", "translate(50,0)")
    .call(d3.axisLeft(gy).tickValues([0, .25, .5, .75, 1]).tickFormat(d3.format(".2f")).tickSize(3).tickSizeOuter(0));
gyAxis.select(".domain").remove();
gyAxis.selectAll("text").attr("font-size", 11).attr("font-family", "Liberation Sans");
gp.append("line").attr("x1", 50).attr("x2", 50).attr("y1", 520).attr("y2", 669.3).attr("stroke", "#444").attr("stroke-width", 1);
var gxAxis = gp.append("g").attr("transform", "translate(0,669.3)")
    .call(d3.axisBottom(gx).tickSize(3).tickSizeOuter(0));
gxAxis.select(".domain").attr("stroke", "#444");
gxAxis.selectAll("text").attr("font-size", 11).attr("font-family", "Liberation Sans").attr("y", 9);

// legend for g, two columns
var legend = gp.selectAll("g.key").data(genotypes).enter().append("g")
    .attr("class", "key")
    .attr("transform", function (d, i) {
        var col = i < 11 ? 0 : 1;
        var row = i < 11 ? i : i - 11;
        return "translate(" + (col ? 627.3 : 563.3) + "," + (529 + row * 11.87) + ")";
    });
legend.append("rect").attr("width", 10.8).attr("height", 11)
    .attr("fill", function (d, i) { return genotypeColors[i]; });
legend.append("text").attr("x", 14.2).attr("y", 9.3).attr("font-size", 9.7).text(function (d) { return d; });

// panels h and i share the band scale
var bx = d3.scaleBand().domain(d3.range(lines.length)).range([58.7, 676.7]).paddingInner(.1).paddingOuter(.154);
var hy = d3.scaleLinear().domain([0, 274]).range([836, 731]);
var iy = d3.scaleLinear().domain([0, 15]).range([924.3, 1001]);
var hp = svg.append("g");
var ip = svg.append("g");

function errorBars(g, low, high, y, coloured) {
    lines.forEach(function (d, i) {
        if (low[i] === null || (barColors[i] !== "#000") !== coloured) return;
        var cx = bx(i) + bx.bandwidth() / 2;
        g.append("line").attr("x1", cx).attr("x2", cx).attr("y1", y(low[i])).attr("y2", y(high[i]))
            .attr("stroke", "#555").attr("stroke-width", 1);
        [low[i], high[i]].forEach(function (v) {
            g.append("line").attr("x1", cx - 2.8).attr("x2", cx + 2.8).attr("y1", y(v)).attr("y2", y(v))
                .attr("stroke", "#444").attr("stroke-width", 1);
        });
    });
}

// whiskers of the black bars go under the bar, the coloured ones show through
errorBars(hp, posLow, posHigh, hy, false);
errorBars(ip, negLow, negHigh, iy, false);

hp.selectAll("rect.bar").data(posValues).enter().append("rect")
    .attr("class", "bar")
    .attr("x", function (d, i) { return bx(i); })
    .attr("width", bx.bandwidth())
    .attr("y", function (d) { return hy(d); })
    .attr("height", function (d) { return hy(0) - hy(d); })
    .attr("fill", function (d, i) { return barColors[i]; });

ip.selectAll("rect.bar").data(negValues).enter().append("rect")
    .attr("class", "bar")
    .attr("x", function (d, i) { return bx(i); })
    .attr("width", bx.bandwidth())
    .attr("y", iy(0))
    .attr("height", function (d) { return Math.max(iy(d) - iy(0), .6); })
    .attr("fill", function (d, i) { return d < .2 ? "#777" : barColors[i]; });

errorBars(hp, posLow, posHigh, hy, true);
errorBars(ip, negLow, negHigh, iy, true);

// significance letters
hp.selectAll("text.sig").data(posLetters).enter().append("text")
    .attr("class", "sig")
    .attr("x", function (d, i) { return bx(i) + bx.bandwidth() / 2; })
    .attr("y", function (d, i) { return hy(posHigh[i] === null ? posValues[i] : posHigh[i]) - 5; })
    .attr("text-anchor", "middle").attr("font-size", 11).text(function (d) { return d; });
ip.selectAll("text.sig").data(negLetters).enter().append("text")
    .attr("class", "sig")
    .attr("x", function (d, i) { return bx(i) + bx.bandwidth() / 2; })
    .attr("y", function (d, i) {
        return Math.min(iy(negLow[i] === null ? negValues[i] : negLow[i]) + 12, 1021);
    })
    .attr("text-anchor", "middle").attr("font-size", 11).text(function (d) { return d; });

// axes of h
var hAxis = hp.append("g").attr("transform", "translate(58.7,0)")
    .call(d3.axisLeft(hy).tickValues([0, 100, 200]).tickSize(3).tickSizeOuter(0));
hAxis.select(".domain").remove();
hAxis.selectAll("text").attr("font-size", 11.5).attr("font-family", "Liberation Sans");
hp.append("line").attr("x1", 58.7).attr("x2", 58.7).attr("y1", 731).attr("y2", 841).attr("stroke", "#444");
var hxAxis = hp.append("g").attr("transform", "translate(0,841)")
    .call(d3.axisBottom(bx).tickSize(3).tickSizeOuter(0).tickFormat(""));
hxAxis.select(".domain").attr("stroke", "#444");

// rotated genotype and (n = x) labels between h and i
lines.forEach(function (d, i) {
    var cx = bx(i) + bx.bandwidth() / 2;
    hp.append("text").attr("transform", "translate(" + (cx + 4) + ",896) rotate(-90)")
        .attr("font-size", 11.5).text(d);
    var n = hp.append("text").attr("transform", "translate(" + (cx + 17.5) + ",888) rotate(-90)")
        .attr("font-size", 10.5);
    n.append("tspan").text("(");
    n.append("tspan").attr("font-style", "italic").text("n");
    n.append("tspan").text(" = " + lineN[i] + ")");
});

// axes of i
var iAxis = ip.append("g").attr("transform", "translate(58.7,0)")
    .call(d3.axisLeft(iy).tickValues([0, 5, 10, 15]).tickSize(3).tickSizeOuter(0));
iAxis.select(".domain").remove();
iAxis.selectAll("text").attr("font-size", 11.5).attr("font-family", "Liberation Sans");
ip.append("line").attr("x1", 58.7).attr("x2", 58.7).attr("y1", 904).attr("y2", 1018).attr("stroke", "#444");
var ixAxis = ip.append("g").attr("transform", "translate(0,904)")
    .call(d3.axisTop(bx).tickSize(3).tickSizeOuter(0).tickFormat(""));
ixAxis.select(".domain").attr("stroke", "#444");

// two line bold titles with superscripts
function volatileTitle(x, y, first) {
    svg.append("text").attr("transform", "translate(" + x + "," + y + ") rotate(-90)")
        .attr("text-anchor", "middle").attr("font-size", 11.5).attr("font-weight", "bold").text(first);
    var b = svg.append("text").attr("transform", "translate(" + (x + 14.5) + "," + y + ") rotate(-90)")
        .attr("text-anchor", "middle").attr("font-size", 11.5).attr("font-weight", "bold");
    b.append("tspan").text("content (ng g");
    b.append("tspan").attr("font-size", 8).attr("dy", -4).text("\u22121");
    b.append("tspan").attr("dy", 4).text(" h");
    b.append("tspan").attr("font-size", 8).attr("dy", -4).text("\u22121");
    b.append("tspan").attr("dy", 4).text(")");
}
volatileTitle(10, 785, "Total positive volatile");
volatileTitle(18, 962, "Total negative volatile");

// Modern and Cherry callouts
function callout(x, y0, label, color, labelX, labelY) {
    svg.append("text").attr("x", labelX).attr("y", labelY).attr("text-anchor", "middle")
        .attr("font-size", 10.5).attr("font-weight", "bold").style("fill", color).text(label);
    svg.append("path")
        .attr("d", d3.line()([[x - 2.5, y0], [x + 2.5, y0], [x + 2.5, y0 + 6], [x + 8.5, y0 + 6], [x, y0 + 12], [x - 8.5, y0 + 6], [x - 2.5, y0 + 6]]))
        .attr("fill", "#000");
}
var firstC = bx(0) + bx.bandwidth() / 2, lastC = bx(20) + bx.bandwidth() / 2;
callout(firstC, 802, "Modern", "#1a1ae0", 79.7, 796);
callout(lastC, 720, "Cherry", "#d8222a", lastC, 716);
</script>
</body>
</html>
